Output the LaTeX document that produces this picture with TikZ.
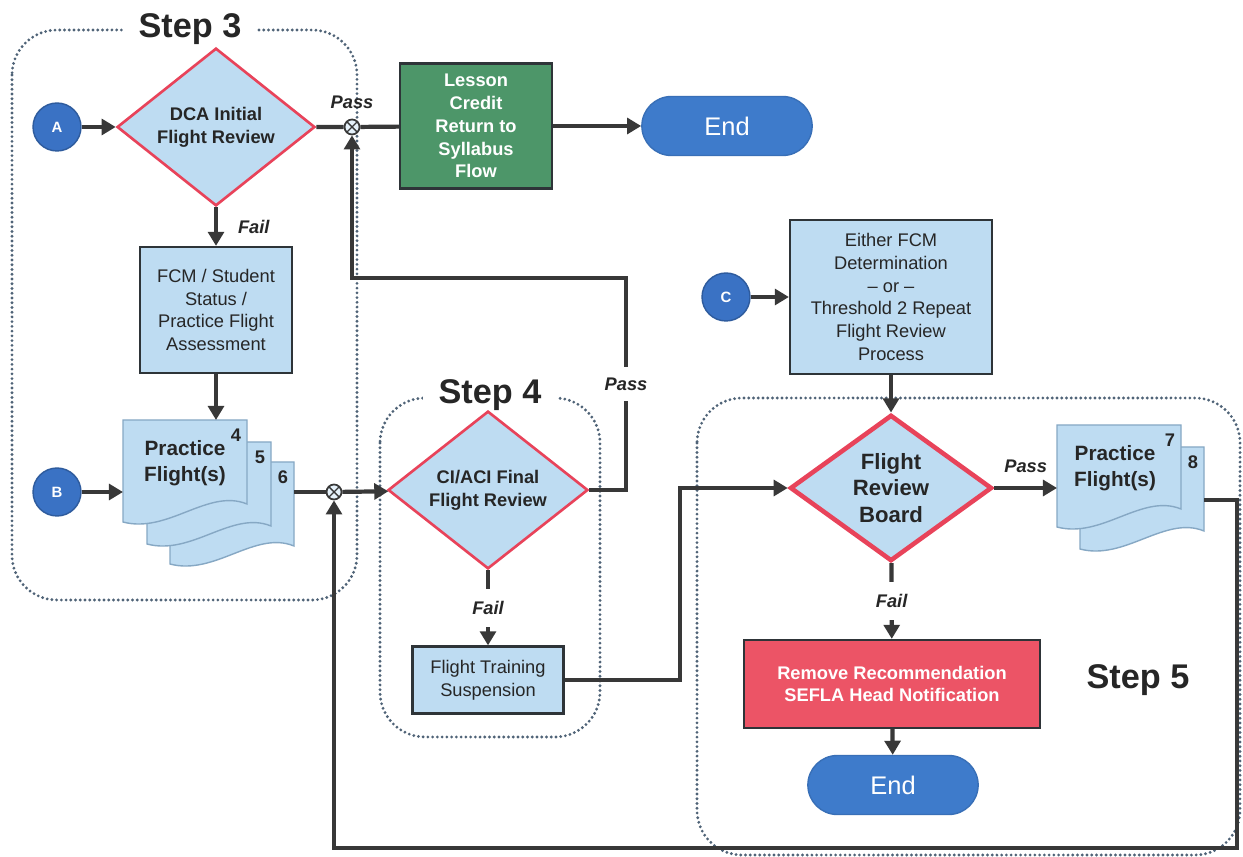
\documentclass[tikz,border=0pt]{standalone}
\usepackage{fontspec}
\setmainfont{Liberation Sans}
\usetikzlibrary{%
  arrows,%
  arrows.meta,%
  shapes,%
  shapes.geometric,% diamond
  shapes.misc,% rounded rectangle
  positioning,%
  calc%
}

\definecolor{boxblue}{HTML}{BEDCF2}
\definecolor{boxedge}{HTML}{2E3438}
\definecolor{decisionred}{HTML}{E8435A}
\definecolor{lessongreen}{HTML}{4D9669}
\definecolor{removered}{HTML}{EC5466}
\definecolor{endblue}{HTML}{3E7BCB}
\definecolor{connblue}{HTML}{3A72C4}
\definecolor{linegray}{HTML}{383838}
\definecolor{framegray}{HTML}{4F6377}
\definecolor{pageedge}{HTML}{86A8C4}

\newcommand{\fcbody}{\fontsize{10.4}{13}\selectfont}
\newcommand{\fcbold}{\fontsize{10.4}{13}\selectfont\bfseries}
\newcommand{\fcbig}{\fontsize{11.8}{14.5}\selectfont\bfseries}
\newcommand{\fcbrd}{\fontsize{12.6}{15.3}\selectfont\bfseries}
\newcommand{\fcstep}{\fontsize{19.5}{22}\selectfont\bfseries}
\newcommand{\fcpf}{\fontsize{10.4}{12}\selectfont\bfseries\itshape}
\newcommand{\fcend}{\fontsize{14.5}{16}\selectfont}
\newcommand{\fcconn}{\fontsize{8.5}{10}\selectfont\bfseries}

% one sheet of a document stack: top left x, top left y, number
\newcommand{\docpage}[3]{%
  \begin{scope}[shift={(#1,#2)}]
    \draw[pagesheet] (0,0) -- (124,0) -- (124,84)
      .. controls (85,68) and (45,114) .. (0,102) -- cycle;
    \node[pagenum] (num#3) at (113,15) {#3};
  \end{scope}
}

\begin{document}
\begin{tikzpicture}
  [
  x=0.02cm, y=-0.02cm, font=\fcbody,
  >={Triangle[length=8pt,width=9pt]},
  flow/.style={draw=linegray, line width=2.4pt},
  stepframe/.style={draw=framegray, line width=1.8pt, dash pattern=on 0pt off 2.7pt, line cap=round, rounded corners=0.9cm},
  steptitle/.style={font=\fcstep, text=black!85, fill=white, inner xsep=9pt, inner ysep=2pt},
  decision/.style={diamond, draw=decisionred, line width=1.5pt, fill=boxblue, inner sep=0pt, align=center, font=\fcbold, text=black!85},
  procbox/.style={rectangle, draw=boxedge, line width=1.3pt, fill=boxblue, inner sep=2pt, align=center, text=black!85},
  connector/.style={circle, fill=connblue, draw=connblue!80!black, line width=0.8pt, minimum size=0.96cm, inner sep=0pt, text=white, font=\fcconn},
  terminal/.style={rounded rectangle, fill=endblue, draw=endblue!90!black, line width=0.8pt, minimum width=3.64cm, minimum height=1.18cm, text=white, font=\fcend},
  junction/.style={circle, draw=linegray, fill=boxblue!40, line width=1pt, minimum size=0.3cm, inner sep=0pt,
    path picture={\draw[line width=0.8pt] (path picture bounding box.south west) -- (path picture bounding box.north east)
      (path picture bounding box.north west) -- (path picture bounding box.south east);}},
  passfail/.style={font=\fcpf, text=black!85},
  pagesheet/.style={fill=boxblue, draw=pageedge, line width=0.8pt},
  pagenum/.style={font=\fcbold, text=black!85, inner sep=0pt},
  ]

  \useasboundingbox[fill=white] (0,0) rectangle (1243,857);

  % dotted step frames
  \draw[stepframe] (12,30) rectangle (357,600);
  \node[steptitle] (step3) at (190,29) {Step 3};
  \draw[stepframe] (380,398) rectangle (600,737);
  \node[steptitle] (step4) at (490,395) {Step 4};
  \draw[stepframe] (697,398) rectangle (1240,855);
  \node[font=\fcstep, text=black!85] (step5) at (1138,680) {Step 5};

  % step 3
  \node[connector] (a) at (57,127) {A};
  \node[decision, minimum width=3.96cm, minimum height=2.6cm] (dca) at (216,127) {DCA Initial\\Flight Review};
  \node[junction] (j1) at (352,127) {};
  \node[procbox, fill=lessongreen, text=white, font=\fcbold, minimum width=3.04cm, minimum height=2.5cm] (lesson) at (476,126) {Lesson\\Credit\\Return to\\Syllabus\\Flow};
  \node[terminal] (end1) at (727,126) {End};
  \node[procbox, minimum width=3.04cm, minimum height=2.52cm] (fcm) at (216,310) {FCM / Student\\Status /\\Practice Flight\\Assessment};

  \foreach \px/\py/\pn in {170/462/6, 147/442/5, 123/420/4} {
    \docpage{\px}{\py}{\pn}
  }
  \node[font=\fcbig, text=black!85, align=center] (pfa) at (185,463) {Practice\\Flight(s)};
  \coordinate (pftop) at (216,420);
  \coordinate (pfin) at (123,492);
  \coordinate (pfout) at (294,492);

  \node[connector] (b) at (57,492) {B};
  \node[junction] (j2) at (334,492) {};

  % step 4
  \node[decision, minimum width=4cm, minimum height=2.6cm] (ciaci) at (488,490) {CI/ACI Final\\Flight Review};
  \node[procbox, minimum width=3.02cm, minimum height=1.34cm] (fts) at (488,680) {Flight Training\\Suspension};
  \coordinate (passturn) at (626,278);
  \coordinate (ftsturn) at (680,488);

  % step 5
  \node[connector] (c) at (726,297) {C};
  \node[procbox, minimum width=4.04cm, minimum height=3.08cm] (either) at (891,297) {Either FCM\\Determination\\-- or --\\Threshold 2 Repeat\\Flight Review\\Process};
  \node[decision, line width=2.6pt, font=\fcbrd, minimum width=4.04cm, minimum height=2.64cm] (frb) at (891,488) {Flight\\Review\\Board};

  \foreach \px/\py/\pn in {1080/447/8, 1057/425/7} {
    \docpage{\px}{\py}{\pn}
  }
  \node[font=\fcbig, text=black!85, align=center] (pfb) at (1115,468) {Practice\\Flight(s)};
  \coordinate (pf7in) at (1057,488);
  \coordinate (pf8out) at (1204,500);
  \coordinate (fbturn) at (1237,848);

  \node[procbox, fill=removered, text=white, font=\fcbold, minimum width=5.92cm, minimum height=1.76cm] (remove) at (892,684) {Remove Recommendation\\SEFLA Head Notification};
  \node[terminal] (end2) at (893,785) {End};

  % connectors
  \draw[flow,->] (a) -- (dca);
  \draw[flow] (dca) -- (j1) -- (lesson);
  \node[passfail, above=2pt of j1] (pass1) {Pass};
  \draw[flow,->] (lesson) -- (end1);
  \draw[flow,->] (dca) -- node[passfail, right=8pt] (fail1) {Fail} (fcm);
  \draw[flow,->] (fcm) -- (pftop);
  \draw[flow,->] (b) -- (pfin);
  \draw[flow] (pfout) -- (j2);
  \draw[flow,->] (j2) -- (ciaci);
  \draw[flow,->] (ciaci.east) -- (ciaci.east -| passturn)
    -- node[passfail, fill=white, inner ysep=6pt] (pass2) {Pass} (passturn)
    -- (j1 |- passturn) -- (j1);
  \draw[flow,->] (ciaci) -- node[passfail, fill=white, inner ysep=7pt] (fail2) {Fail} (fts);
  \draw[flow,->] (fts.east) -- (fts.east -| ftsturn) -- (ftsturn) -- (frb.west);
  \draw[flow,->] (c) -- (either);
  \draw[flow,->] (either) -- (frb);
  \draw[flow,->] (frb) -- node[passfail, above=4pt] (pass3) {Pass} (pf7in);
  \draw[flow,->] (frb) -- node[passfail, fill=white, inner ysep=7pt] (fail3) {Fail} (remove);
  \draw[flow,->] (remove) -- (end2);
  \draw[flow,->] (pf8out) -- (pf8out -| fbturn) -- (fbturn) -- (j2 |- fbturn) -- (j2);

\end{tikzpicture}
\end{document}
